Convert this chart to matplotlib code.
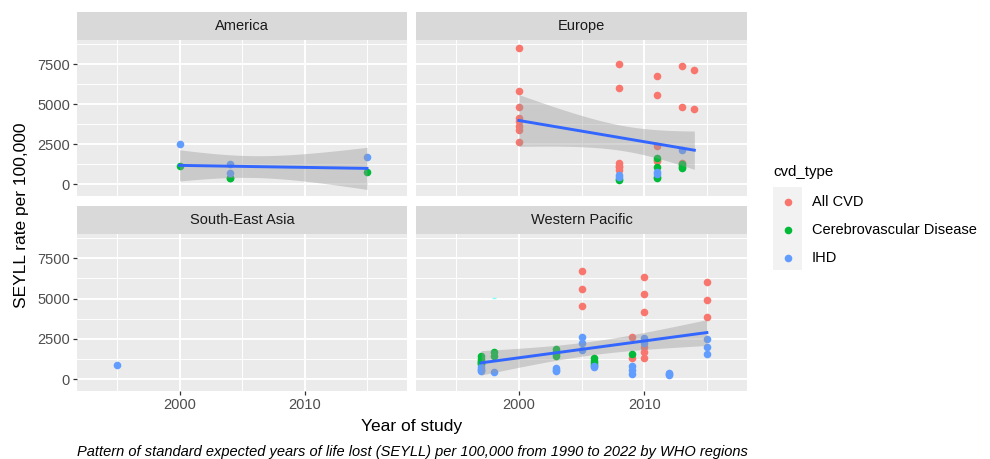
import numpy as np
import matplotlib
matplotlib.use("Agg")
import matplotlib.pyplot as plt

plt.rcParams['font.family'] = ['Liberation Sans', 'DejaVu Sans']

# SEYLL per 100,000 by WHO region, (year, value) pairs per CVD type
cvd_types = ["All CVD", "Cerebrovascular Disease", "IHD"]
cvd_colors = ["#F8766D", "#00BA38", "#619CFF"]

america = {
    "All CVD": [],
    "Cerebrovascular Disease": [(2000, 1115), (2004, 410), (2004, 400), (2015, 745)],
    "IHD": [(2000, 2540), (2004, 1260), (2004, 680), (2015, 1710)],
}
europe = {
    "All CVD": [(2000, 8530), (2000, 5830), (2000, 4840), (2000, 4150), (2000, 3940),
                (2000, 3650), (2000, 3370), (2000, 2640),
                (2008, 7480), (2008, 6010), (2008, 1300), (2008, 1090), (2008, 890), (2008, 1150),
                (2011, 6780), (2011, 5540), (2011, 2390), (2011, 1510), (2011, 1450),
                (2013, 7400), (2013, 4810), (2013, 1300), (2013, 1200),
                (2014, 7150), (2014, 4710)],
    "Cerebrovascular Disease": [(2008, 270), (2008, 320), (2011, 1650), (2011, 1050),
                                (2011, 370), (2011, 450), (2013, 1260), (2013, 1050),
                                (2013, 1000)],
    "IHD": [(2008, 580), (2008, 450), (2011, 780), (2011, 650), (2013, 2170)],
}
south_east_asia = {
    "All CVD": [],
    "Cerebrovascular Disease": [],
    "IHD": [(1995, 855)],
}
western_pacific = {
    "All CVD": [(2005, 6690), (2005, 5610), (2005, 4560),
                (2009, 2610), (2009, 1320),
                (2010, 6340), (2010, 5290), (2010, 4180), (2010, 1980), (2010, 1670),
                (2010, 1320),
                (2015, 6030), (2015, 4920), (2015, 3830)],
    "Cerebrovascular Disease": [(1997, 1420), (1997, 1255), (1997, 1090), (1997, 950),
                                (1997, 1150), (1997, 1000), (1998, 1670), (1998, 1460),
                                (2003, 1880), (2003, 1670), (2003, 1460), (2003, 1560),
                                (2006, 1320), (2006, 1105), (2006, 900), (2006, 1000),
                                (2009, 1570)],
    "IHD": [(1997, 750), (1997, 540), (1997, 650), (1997, 600), (1998, 440),
            (2003, 690), (2003, 540), (2003, 600),
            (2005, 2640), (2005, 2220), (2005, 1840),
            (2006, 750), (2006, 800), (2009, 835), (2009, 314), (2009, 600),
            (2010, 2570), (2010, 2260), (2012, 380), (2012, 270), (2012, 320),
            (2015, 2470), (2015, 2010), (2015, 1570)],
}
wp_stray = (1998, 5020)

regions = ["America", "Europe", "South-East Asia", "Western Pacific"]
region_data = [america, europe, south_east_asia, western_pacific]


def t975(df):
    # Cornish-Fisher expansion of the Student t 97.5% quantile
    z = 1.959964
    g1 = (z**3 + z) / 4
    g2 = (5 * z**5 + 16 * z**3 + 3 * z) / 96
    g3 = (3 * z**7 + 19 * z**5 + 17 * z**3 - 15 * z) / 384
    g4 = (79 * z**9 + 776 * z**7 + 1482 * z**5 - 1920 * z**3 - 945 * z) / 92160
    return z + g1 / df + g2 / df**2 + g3 / df**3 + g4 / df**4


def lm_band(x, y, xs):
    n = len(x)
    slope, icpt = np.polyfit(x, y, 1)
    fit = icpt + slope * xs
    resid = y - (icpt + slope * x)
    s = np.sqrt(np.sum(resid**2) / (n - 2))
    xm = x.mean()
    se = s * np.sqrt(1 / n + (xs - xm)**2 / np.sum((x - xm)**2))
    t = t975(n - 2)
    return fit, fit - t * se, fit + t * se


W, H = 990, 459
fig = plt.figure(figsize=(W / 100, H / 100), dpi=100)


def px_rect(x0, y0, x1, y1):
    return [x0 / W, 1 - y1 / H, (x1 - x0) / W, (y1 - y0) / H]


cols = [(77, 407), (416, 747)]
rows = [(12, 40, 196), (206, 234, 391)]

for i, (name, data) in enumerate(zip(regions, region_data)):
    r, c = divmod(i, 2)
    x0, x1 = cols[c]
    s0, p0, p1 = rows[r]

    strip = fig.add_axes(px_rect(x0, s0, x1, p0))
    strip.set_facecolor("#D9D9D9")
    strip.set_xticks([])
    strip.set_yticks([])
    for sp in strip.spines.values():
        sp.set_visible(False)
    strip.text(0.5, 0.5, name, ha="center", va="center", fontsize=10.5, color="#1A1A1A",
               transform=strip.transAxes)

    ax = fig.add_axes(px_rect(x0, p0, x1, p1))
    ax.set_facecolor("#EBEBEB")
    ax.set_axisbelow(True)
    for sp in ax.spines.values():
        sp.set_visible(False)
    ax.set_xlim(1991.8, 2018.2)
    ax.set_ylim(-730, 9000)
    ax.set_xticks([2000, 2010])
    ax.set_xticks([1995, 2005, 2015], minor=True)
    ax.set_yticks([0, 2500, 5000, 7500])
    ax.set_yticks([1250, 3750, 6250, 8750], minor=True)
    ax.grid(which="major", color="white", lw=1.4)
    ax.grid(which="minor", color="white", lw=0.7)
    ax.tick_params(which="minor", length=0)
    ax.tick_params(which="major", length=3, width=0.9, color="#333333",
                   labelcolor="#4D4D4D", labelsize=10.5, pad=2)
    if c == 1:
        ax.tick_params(axis="y", length=0, labelleft=False)
    if r == 0:
        ax.tick_params(axis="x", length=0, labelbottom=False)

    xs_all, ys_all = [], []
    for ctype, color in zip(cvd_types, cvd_colors):
        pts = data[ctype]
        if not pts:
            continue
        px = [p[0] for p in pts]
        py = [p[1] for p in pts]
        ax.scatter(px, py, s=30, color=color, lw=0, zorder=2)
        xs_all += px
        ys_all += py

    if name == "Western Pacific":
        ax.plot(*wp_stray, marker="_", ms=3, color="#7FFFFF", mew=1, zorder=2)

    if len(xs_all) > 2:
        x = np.array(xs_all, dtype=float)
        y = np.array(ys_all, dtype=float)
        xs = np.linspace(x.min(), x.max(), 80)
        fit, lo, hi = lm_band(x, y, xs)
        ax.fill_between(xs, lo, hi, color="#999999", alpha=0.4, lw=0, zorder=3)
        ax.plot(xs, fit, color="#3366FF", lw=2.1, zorder=4)

fig.text(412 / W, 1 - 427 / H, "Year of study", ha="center", va="center",
         fontsize=12.5, color="black")
fig.text(22 / W, 1 - 215 / H, "SEYLL rate per 100,000", ha="center", va="center",
         rotation=90, fontsize=12.5, color="black")
fig.text(77 / W, 1 - 452 / H,
         "Pattern of standard expected years of life lost (SEYLL) per 100,000 from 1990 to 2022 by WHO regions",
         ha="left", va="center", fontsize=10.5, style="italic", color="black")

# legend
fig.text(773 / W, 1 - 172 / H, "cvd_type", ha="left", va="center", fontsize=10.8, color="black")
key = fig.add_axes(px_rect(773, 187, 802, 270))
key.set_facecolor("#F2F2F2")
key.set_xlim(773, 802)
key.set_ylim(270, 187)
key.set_xticks([])
key.set_yticks([])
for sp in key.spines.values():
    sp.set_visible(False)
for j, (ctype, color) in enumerate(zip(cvd_types, cvd_colors)):
    ky = 201.7 + j * 28
    key.scatter([787.7], [ky], s=30, color=color, lw=0)
    fig.text(812 / W, 1 - ky / H, ctype, ha="left", va="center", fontsize=10.5, color="black")

fig.savefig("out.png", dpi=100)
